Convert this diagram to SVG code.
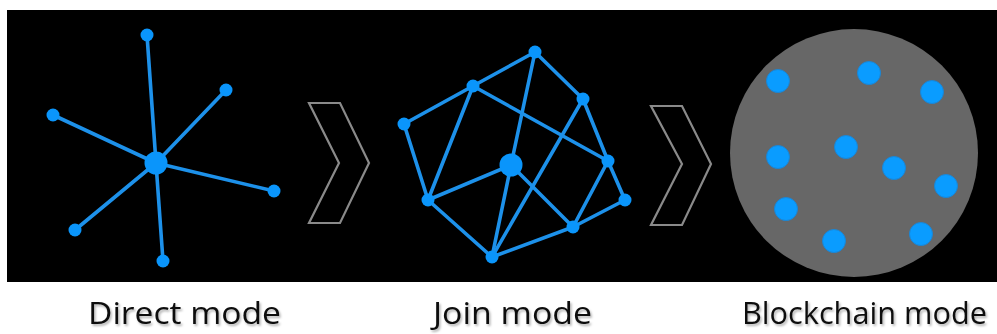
<svg xmlns="http://www.w3.org/2000/svg" width="997" height="334" viewBox="0 0 997 334">
<defs>
<style>
.edge{stroke:#1d91ea;stroke-width:3.6;stroke-linecap:round;fill:none}
.dot{fill:#0a95fb}
.hub{fill:#0a95fb}
.chev{fill:none;stroke:#8a8a8a;stroke-width:2.2;stroke-linejoin:miter}
.lbl{font-family:"Open Sans","Liberation Sans",sans-serif;font-size:31px;fill:#111}
.bdot{fill:#0a9cff;stroke:#1a86d6;stroke-width:1}
</style>
<filter id="sh" x="-5%" y="-20%" width="110%" height="150%">
<feDropShadow dx="1.5" dy="2" stdDeviation="1.2" flood-color="#000" flood-opacity="0.3"/>
</filter>
</defs>
<rect x="0" y="0" width="997" height="334" fill="#ffffff"/>
<rect x="7" y="10" width="990" height="272" fill="#000000"/>

<g id="connectors">
<g id="direct-edges">
<line class="edge" x1="156" y1="163" x2="147" y2="35"/>
<line class="edge" x1="156" y1="163" x2="226" y2="90"/>
<line class="edge" x1="156" y1="163" x2="53" y2="115"/>
<line class="edge" x1="156" y1="163" x2="274" y2="191"/>
<line class="edge" x1="156" y1="163" x2="75" y2="230"/>
<line class="edge" x1="156" y1="163" x2="163" y2="261"/>
</g>
<g id="join-edges">
<line class="edge" x1="535" y1="52" x2="473" y2="86"/>
<line class="edge" x1="535" y1="52" x2="583" y2="99"/>
<line class="edge" x1="535" y1="52" x2="511" y2="165"/>
<line class="edge" x1="473" y1="86" x2="404" y2="124"/>
<line class="edge" x1="473" y1="86" x2="428" y2="200"/>
<line class="edge" x1="473" y1="86" x2="608" y2="161"/>
<line class="edge" x1="404" y1="124" x2="428" y2="200"/>
<line class="edge" x1="583" y1="99" x2="608" y2="161"/>
<line class="edge" x1="608" y1="161" x2="625" y2="200"/>
<line class="edge" x1="583" y1="99" x2="492" y2="257"/>
<line class="edge" x1="511" y1="165" x2="428" y2="200"/>
<line class="edge" x1="511" y1="165" x2="492" y2="257"/>
<line class="edge" x1="511" y1="165" x2="573" y2="227"/>
<line class="edge" x1="428" y1="200" x2="492" y2="257"/>
<line class="edge" x1="492" y1="257" x2="573" y2="227"/>
<line class="edge" x1="573" y1="227" x2="625" y2="200"/>
<line class="edge" x1="608" y1="161" x2="573" y2="227"/>
</g>
</g>

<g id="direct-hub"><circle class="hub" cx="156" cy="163" r="11.5"/></g>
<g id="direct-n1"><circle class="dot" cx="147" cy="35" r="6.5"/></g>
<g id="direct-n2"><circle class="dot" cx="226" cy="90" r="6.5"/></g>
<g id="direct-n3"><circle class="dot" cx="53" cy="115" r="6.5"/></g>
<g id="direct-n4"><circle class="dot" cx="274" cy="191" r="6.5"/></g>
<g id="direct-n5"><circle class="dot" cx="75" cy="230" r="6.5"/></g>
<g id="direct-n6"><circle class="dot" cx="163" cy="261" r="6.5"/></g>

<g id="chevron-1"><polygon class="chev" points="309,103 340,103 369,163 340,223 309,223 339,163"/></g>

<g id="join-a"><circle class="dot" cx="535" cy="52" r="6.5"/></g>
<g id="join-b"><circle class="dot" cx="473" cy="86" r="6.5"/></g>
<g id="join-c"><circle class="dot" cx="404" cy="124" r="6.5"/></g>
<g id="join-d"><circle class="dot" cx="583" cy="99" r="6.5"/></g>
<g id="join-hub"><circle class="hub" cx="511" cy="165" r="11.5"/></g>
<g id="join-f"><circle class="dot" cx="608" cy="161" r="6.5"/></g>
<g id="join-g"><circle class="dot" cx="428" cy="200" r="6.5"/></g>
<g id="join-h"><circle class="dot" cx="625" cy="200" r="6.5"/></g>
<g id="join-i"><circle class="dot" cx="573" cy="227" r="6.5"/></g>
<g id="join-j"><circle class="dot" cx="492" cy="257" r="6.5"/></g>

<g id="chevron-2"><polygon class="chev" points="651,106 682,106 711,164 682,225 651,225 682,164"/></g>

<g id="blockchain">
<circle cx="854" cy="153" r="124" fill="#676767"/>
<circle class="bdot" cx="778" cy="81" r="11.5"/>
<circle class="bdot" cx="869" cy="73" r="11.5"/>
<circle class="bdot" cx="932" cy="92" r="11.5"/>
<circle class="bdot" cx="778" cy="157" r="11.5"/>
<circle class="bdot" cx="846" cy="147" r="11.5"/>
<circle class="bdot" cx="894" cy="168" r="11.5"/>
<circle class="bdot" cx="946" cy="186" r="11.5"/>
<circle class="bdot" cx="786" cy="209" r="11.5"/>
<circle class="bdot" cx="834" cy="241" r="11.5"/>
<circle class="bdot" cx="921" cy="234" r="11.5"/>
</g>

<g id="labels" filter="url(#sh)">
<text class="lbl" x="88" y="324" textLength="193" lengthAdjust="spacingAndGlyphs">Direct mode</text>
<text class="lbl" x="433" y="324" textLength="159" lengthAdjust="spacingAndGlyphs">Join mode</text>
<text class="lbl" x="742" y="324" textLength="245" lengthAdjust="spacingAndGlyphs">Blockchain mode</text>
</g>
</svg>
